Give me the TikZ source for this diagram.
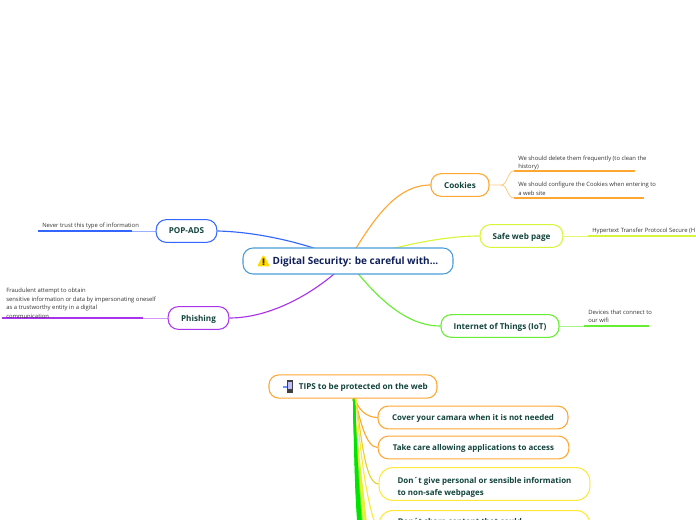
\documentclass[tikz,border=0pt]{standalone}
\usepackage{fontspec}
\setmainfont{Open Sans}
\usetikzlibrary{backgrounds}
\definecolor{inkdark}{HTML}{12443C}
\definecolor{inkmain}{HTML}{10205A}
\definecolor{cmain}{HTML}{4A9CD8}
\definecolor{corange}{HTML}{FFA733}
\definecolor{clime}{HTML}{D8F53C}
\definecolor{cgreen}{HTML}{66EE33}
\definecolor{cblue}{HTML}{3366FF}
\definecolor{cpurple}{HTML}{AA33EE}
\definecolor{cyellow}{HTML}{FFE838}
\tikzset{
  topicbox/.style={draw, line width=.8pt, rounded corners=7.5pt, fill=white, align=left,
    text=inkdark, font=\fontsize{6.1}{8.6}\selectfont\bfseries, inner sep=0pt, minimum height=17pt},
  oneline/.style={text depth=0pt},
  tipbox/.style={topicbox, font=\fontsize{5.95}{8.6}\selectfont\bfseries},
  leafnote/.style={inner sep=0pt, align=left, text=black!80,
    font=\fontsize{4.4}{6.4}\selectfont, anchor=south west},
  branch/.style={line width=.85pt},
  twig/.style={line width=.6pt},
  notebar/.style={line width=1.3pt}
}
\begin{document}
\begin{tikzpicture}[x=.75pt,y=-.75pt]
    \useasboundingbox (0,0) rectangle (696,520);
    \clip (0,0) rectangle (696,520);
    % central topic
    \node[topicbox, oneline, draw=cmain, text=inkmain, minimum width=157.5pt, minimum height=19.5pt,
      font=\fontsize{7.5}{10}\selectfont\bfseries] (main) at (348,261)
      {\hspace{11.25pt}Digital Security: be careful with...};
    % main branches
    \node[topicbox, oneline, draw=corange, minimum width=43.5pt] (cookies) at (460,185) {Cookies};
    \node[topicbox, oneline, draw=clime, minimum width=62pt] (safeweb) at (521.5,236) {Safe web page};
    \node[topicbox, oneline, draw=cgreen, minimum width=88.5pt] (iot) at (500,326) {Internet of Things (IoT)};
    \node[topicbox, oneline, draw=cblue, minimum width=45.5pt] (popads) at (186.5,231) {POP-ADS};
    \node[topicbox, oneline, draw=cpurple, minimum width=45.5pt] (phishing) at (198.5,318) {Phishing};
    % notes
    \node[leafnote] (noteA) at (518,170.5) {We should delete them frequently (to clean the\\history)};
    \node[leafnote] (noteB) at (518,195.5) {We should configure the Cookies when entering to\\a web site};
    \node[leafnote] (noteC) at (592,234.5) {Hypertext Transfer Protocol Secure (H};
    \node[leafnote] (noteD) at (588,323) {Devices that connect to\\our wifi};
    \node[leafnote] (noteE) at (42,229.5) {Never trust this type of information};
    \node[leafnote] (noteF) at (6,318.5) {Fraudulent attempt to obtain\\sensitive information or data  by impersonating oneself\\as a trustworthy entity in a digital\\communication};
    % free ends of the notes
    \coordinate (forkA) at (501,185);
    \coordinate (barAa) at (514,171);
    \coordinate (barAb) at (635,171);
    \coordinate (barBa) at (514,198);
    \coordinate (barBb) at (644,198);
    \coordinate (barCa) at (588,236);
    \coordinate (barCb) at (696,236);
    \coordinate (barDa) at (584,326);
    \coordinate (barDb) at (649,326);
    \coordinate (barEa) at (132,231);
    \coordinate (barEb) at (38,231);
    \coordinate (barFa) at (143,318);
    \coordinate (barFb) at (2,318);
    % tips
    \node[topicbox, oneline, draw=corange, minimum width=126pt, minimum height=17.5pt] (tips) at (353,386.5)
      {\hspace{15.5pt}TIPS to be protected on the web};
    \node[tipbox, oneline, draw=corange, minimum width=142.5pt] (tipA) at (473,417.5) {Cover your camara when it is not needed};
    \node[tipbox, oneline, draw=corange, minimum width=143pt] (tipB) at (473.5,447.5) {Take care allowing applications to access};
    \node[tipbox, draw=cyellow, minimum width=158pt, minimum height=24.5pt, rounded corners=10pt] (tipC) at (484.5,484)
      {\rule{0pt}{9.5pt}Don´t give personal or sensible information\\to non-safe webpages};
    \node[tipbox, draw=cyellow, minimum width=158pt, minimum height=24.5pt, anchor=north, rounded corners=10pt] (tipD) at (484.5,510)
      {\rule[-7.5pt]{0pt}{7.5pt}Don´t share content that could\hspace*{37pt}};
    \coordinate (tipDin) at (379,534);
    % warning sign and phone
    \fill[yellow!80!orange, rounded corners=1pt] (263.5,254.5) -- (270,266.5) -- (257,266.5) -- cycle;
    \fill[black!70!orange] (262.7,258.5) rectangle (264.3,262.8) (262.7,263.4) rectangle (264.3,265);
    \fill[black!75] (286.5,380) rectangle (292.5,392.5);
    \fill[blue!25] (287.5,382) rectangle (291.5,389);
    \fill[cblue!70] (282.5,385.5) rectangle (286.5,387.5);
    % connectors
    \begin{pgfonlayer}{background}
    \draw[branch, corange] (main.center) .. controls (370,226) and (393,185) .. (cookies.west);
    \draw[branch, clime] (main.center) .. controls (385,250) and (435,236) .. (safeweb.west);
    \draw[branch, cgreen] (main.center) .. controls (375,296) and (405,326) .. (iot.west);
    \draw[branch, cblue] (main.center) .. controls (310,244) and (260,232) .. (popads.east);
    \draw[branch, cpurple] (main.center) .. controls (322,288) and (275,318) .. (phishing.east);
    % notes
    \draw[twig, corange!60] (cookies.east) -- (forkA) .. controls (508,185) and (507,171) .. (barAa);
    \draw[twig, corange!60] (forkA) .. controls (508,185) and (507,198) .. (barBa);
    \draw[notebar, corange] (barAa) -- (barAb);
    \draw[notebar, corange] (barBa) -- (barBb);
    \draw[twig, clime!70] (safeweb.east) -- (barCa);
    \draw[notebar, clime] (barCa) -- (barCb);
    \draw[twig, cgreen!60] (iot.east) -- (barDa);
    \draw[notebar, cgreen] (barDa) -- (barDb);
    \draw[twig, cblue!50] (popads.west) -- (barEa);
    \draw[notebar, cblue] (barEa) -- (barEb);
    \draw[twig, cpurple!50] (phishing.west) -- (barFa);
    \draw[notebar, cpurple] (barFa) -- (barFb);
    % tips
    \foreach \endx/\tint in {366/clime,364/cyellow,362/cgreen,361/green!90!black,360/green!90!black,359/green!90!black,358.5/green!90!black}
      \draw[line width=1.6pt, \tint] (tips.south) ++(1,0) .. controls +(1,40) and (\endx-3,490) .. (\endx,525);
    \draw[branch, corange] (tips.south) ++(2,0) .. controls (358,409) and (366,417.5) .. (tipA.west);
    \draw[branch, corange] (tips.south) ++(2,0) .. controls (360,420) and (366,447.5) .. (tipB.west);
    \draw[branch, cyellow!90!black] (tips.south) ++(3,0) .. controls (362,445) and (366,484) .. (tipC.west);
    \draw[branch, cyellow] (tips.south) ++(3,0) .. controls (360,450) and (366,505) .. (tipDin);
    \end{pgfonlayer}
\end{tikzpicture}
\end{document}
